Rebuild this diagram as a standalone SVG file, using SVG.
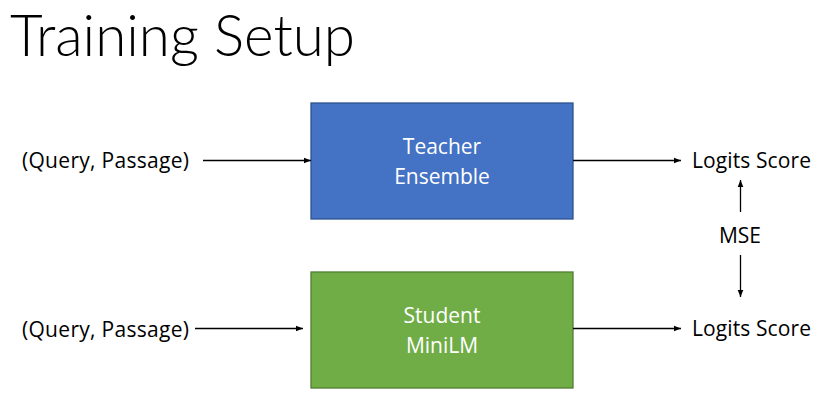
<svg xmlns="http://www.w3.org/2000/svg" width="839" height="416" viewBox="0 0 839 416">
<defs>
<style>
text{font-family:"Open Sans",Lato,"Liberation Sans",sans-serif;fill:#000}
.lbl{font-size:21px}
.box{font-size:21px;fill:#fff;text-anchor:middle}
.ln{stroke:#000;stroke-width:1.3;fill:none;marker-end:url(#ah)}
</style>
<marker id="ah" viewBox="0 0 10 10" refX="10" refY="5" markerWidth="7" markerHeight="7" markerUnits="userSpaceOnUse" orient="auto">
<path d="M0,1 L10,5 L0,9 z" fill="#000"/>
</marker>
</defs>
<rect width="839" height="416" fill="#fff"/>
<text x="10" y="56" style="font-family:Lato,'Open Sans',sans-serif;font-size:56.5px;font-weight:300">Training Setup</text>
<g id="teacher">
<rect x="311" y="103" width="262" height="116" fill="#4472C4" stroke="#2F528F" stroke-width="1.3"/>
<text class="box" x="442" y="154">Teacher</text>
<text class="box" x="442" y="184">Ensemble</text>
</g>
<g id="student">
<rect x="311" y="272" width="262" height="116" fill="#70AD47" stroke="#507E32" stroke-width="1.3"/>
<text class="box" x="442" y="323">Student</text>
<text class="box" x="442" y="353">MiniLM</text>
</g>
<g id="input-top"><text class="lbl" x="22" y="168" textLength="167">(Query, Passage)</text></g>
<g id="input-bottom"><text class="lbl" x="22" y="337" textLength="167">(Query, Passage)</text></g>
<g id="logits-top"><text class="lbl" x="692" y="168" textLength="119">Logits Score</text></g>
<g id="logits-bottom"><text class="lbl" x="692" y="336" textLength="119">Logits Score</text></g>
<g id="mse"><text class="lbl" x="740" y="243" text-anchor="middle">MSE</text></g>
<g id="connectors">
<line class="ln" x1="203" y1="160.5" x2="311" y2="160.5"/>
<line class="ln" x1="195" y1="328.5" x2="303" y2="328.5"/>
<line class="ln" x1="573" y1="160.5" x2="681" y2="160.5"/>
<line class="ln" x1="573" y1="328.5" x2="681" y2="328.5"/>
<line class="ln" x1="740.5" y1="212" x2="740.5" y2="180"/>
<line class="ln" x1="740.5" y1="255" x2="740.5" y2="297"/>
</g>
</svg>
